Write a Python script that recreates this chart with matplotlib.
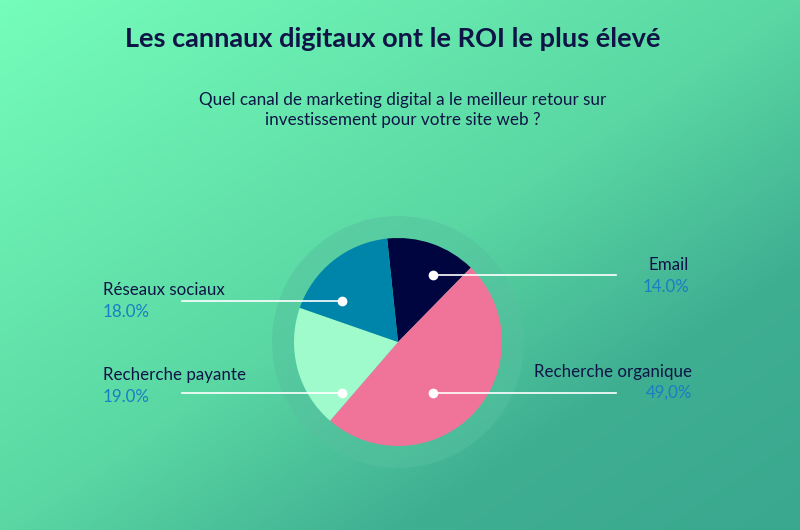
import numpy as np
import matplotlib.pyplot as plt
from matplotlib.colors import LinearSegmentedColormap
from matplotlib.patches import Circle

# Data
channels = ['Email', 'Recherche organique', 'Recherche payante', 'Réseaux sociaux']
shares = [14.0, 49.0, 19.0, 18.0]
share_labels = ['14.0%', '49,0%', '19.0%', '18.0%']
slice_colors = ['#00053F', '#F07399', '#A0FBCC', '#0085AA']

title = 'Les cannaux digitaux ont le ROI le plus élevé'
subtitle = 'Quel canal de marketing digital a le meilleur retour sur\ninvestissement pour votre site web ?'

NAVY = '#0F1446'
BLUE = '#1C7CC4'

W, H = 800, 530
plt.rcParams['font.family'] = ['Lato', 'DejaVu Sans']

fig = plt.figure(figsize=(W / 100, H / 100), dpi=100)
ax = fig.add_axes([0, 0, 1, 1])

# Background gradient (top-left light -> bottom-right teal)
bg = LinearSegmentedColormap.from_list(
    'bg', [(0.0, '#75FDBB'), (0.5, '#5AD7A3'), (0.75, '#3FAF92'), (1.0, '#39A88F')])
gx, gy = np.meshgrid(np.linspace(0, 1, 400), np.linspace(0, 1, 265))
ax.imshow((gx + gy) / 2, cmap=bg, extent=[0, W, 0, H], origin='upper',
          aspect='auto', zorder=0, vmin=0, vmax=1)

# Pie (y axis in pixels, up)
cx, cy, r = 398, H - 342, 104
ax.add_patch(Circle((cx, cy), 126, color='#56C19F', alpha=0.5, lw=0, zorder=1))
ax.pie(shares, colors=slice_colors, startangle=96, counterclock=False,
       center=(cx, cy), radius=r, wedgeprops=dict(linewidth=0, zorder=2))

ax.set_xlim(0, W)
ax.set_ylim(0, H)
ax.set_aspect('auto')
ax.axis('off')

# Label layout: (dot x, line end x, y of line, text x, name y, pct y, align)
layout = {
    'Email': (433, 616, 275, 689, 265, 287, 'right'),
    'Recherche organique': (433, 616, 393, 692, 372, 393, 'right'),
    'Recherche payante': (342, 182, 393, 103, 375, 397, 'left'),
    'Réseaux sociaux': (342, 182, 301, 103, 290, 312, 'left'),
}
for name, pct in zip(channels, share_labels):
    dx, lx, ly, tx, ny, py, ha = layout[name]
    ax.plot([dx, lx], [H - ly, H - ly], color='white', lw=1.2, zorder=3)
    ax.plot(dx, H - ly, 'o', color='white', ms=6, zorder=4)
    ax.text(tx, H - ny, name, ha=ha, va='center', fontsize=12.2, color=NAVY, zorder=5)
    ax.text(tx, H - py, pct, ha=ha, va='center', fontsize=12.2, color=BLUE, zorder=5)

ax.text(393, H - 47, title, ha='center', va='baseline', fontsize=19.5,
        fontweight='bold', color=NAVY)
for i, line in enumerate(subtitle.split('\n')):
    ax.text(403, H - 105 - 20 * i, line, ha='center', va='baseline',
            fontsize=12.3, color=NAVY)

fig.savefig('out.png', dpi=100)
